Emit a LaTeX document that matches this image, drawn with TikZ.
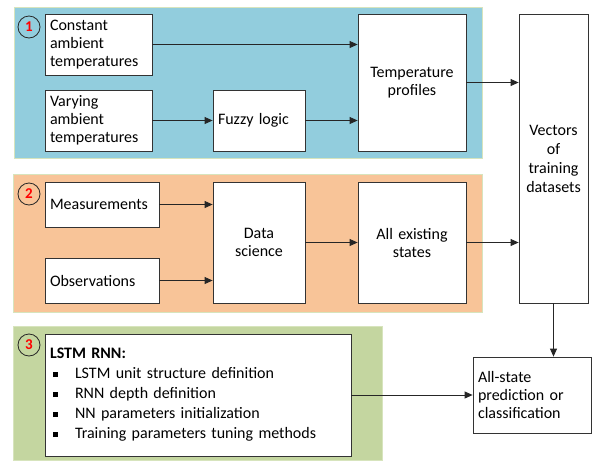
\documentclass[tikz,border=0pt]{standalone}
\usepackage{fontspec}
\setmainfont{Carlito}
\usepackage{xcolor}
\usetikzlibrary{arrows.meta,positioning}

\definecolor{paneblue}{RGB}{146,205,221}
\definecolor{paneorange}{RGB}{248,196,152}
\definecolor{panegreen}{RGB}{196,214,160}
\definecolor{paneedge}{RGB}{215,228,189}

\newcommand{\sqitem}[1]{\hspace*{3pt}\makebox[22pt][l]{\rule[2pt]{4.5pt}{4.5pt}}#1}

\begin{document}
\begin{tikzpicture}[x=1pt, y=-1pt,
    every node/.style={font=\fontsize{16}{18}\selectfont},
    panel/.style={draw=paneedge, line width=1pt, inner sep=0pt},
    box/.style={draw=black!80, fill=white, line width=0.8pt, inner sep=5pt},
    lbox/.style={box, align=left},
    cbox/.style={box, align=center},
    tag/.style={draw=black!85, circle, line width=0.8pt, minimum size=22pt, inner sep=0pt, text=red, font=\fontsize{15}{18}\selectfont\bfseries},
    arr/.style={-{Triangle[length=8pt,width=7pt]}, line width=0.8pt, draw=black!85},
]
\useasboundingbox (0,0) rectangle (592,461);

% Background panels
\node[panel, fill=paneblue, minimum width=468pt, minimum height=151pt] (grpA) at (248,82.5) {};
\node[panel, fill=paneorange, minimum width=469pt, minimum height=138pt] (grpB) at (247.5,243) {};
\node[panel, fill=panegreen, minimum width=369pt, minimum height=134pt] (grpC) at (197.5,393) {};

% Panel tags
\node[tag] (tagA) at (29,27) {1};
\node[tag] (tagB) at (29,194) {2};
\node[tag] (tagC) at (29,345) {3};

% Panel 1: temperatures
\node[lbox, minimum width=107pt, minimum height=61pt, text width=97pt] (cst) at (98.5,44.5) {Constant\\ambient\\temperatures};
\node[lbox, minimum width=107pt, minimum height=61pt, text width=97pt] (var) at (98.5,120.5) {Varying\\ambient\\temperatures};
\node[lbox, minimum width=92pt, minimum height=61pt, text width=82pt] (fzy) at (259,120.5) {Fuzzy logic};
\node[cbox, minimum width=108pt, minimum height=137pt, text width=98pt] (tmp) at (412,82.5) {Temperature\\profiles};

% Panel 2: data
\node[lbox, minimum width=114pt, minimum height=45pt, text width=104pt] (mea) at (102,204.5) {Measurements};
\node[lbox, minimum width=114pt, minimum height=45pt, text width=104pt] (obs) at (102,280.5) {Observations};
\node[cbox, minimum width=92pt, minimum height=121pt, text width=82pt] (dsc) at (259,242.5) {Data\\science};
\node[cbox, minimum width=108pt, minimum height=121pt, text width=98pt] (ast) at (412,242.5) {All existing\\states};

% Right column
\node[cbox, minimum width=69pt, minimum height=289pt, text width=59pt, font=\fontsize{16}{19}\selectfont] (vec) at (553.5,158.5) {Vectors\\of\\training\\datasets};
\node[lbox, minimum width=118pt, minimum height=76pt, text width=108pt] (pred) at (532,395) {All-state\\prediction or\\classification};

% Panel 3: network
\node[lbox, minimum width=306pt, minimum height=122pt, text width=296pt, font=\fontsize{16}{20}\selectfont] (lstm) at (198,395)
    {\textbf{LSTM RNN:}\\
     \sqitem{LSTM unit structure definition}\\
     \sqitem{RNN depth definition}\\
     \sqitem{NN parameters initialization}\\
     \sqitem{Training parameters tuning methods}};

% Connectors
\draw[arr] (cst.east) -- (cst.east -| tmp.west);
\draw[arr] (var) -- (fzy);
\draw[arr] (fzy.east) -- (fzy.east -| tmp.west);
\draw[arr] (tmp.east) -- (tmp.east -| vec.west);
\draw[arr] (mea.east) -- (mea.east -| dsc.west);
\draw[arr] (obs.east) -- (obs.east -| dsc.west);
\draw[arr] (dsc) -- (ast);
\draw[arr] (ast.east) -- (ast.east -| vec.west);
\draw[arr] (vec.south) -- (vec.south |- pred.north);
\draw[arr] (lstm) -- (pred);

\end{tikzpicture}
\end{document}
